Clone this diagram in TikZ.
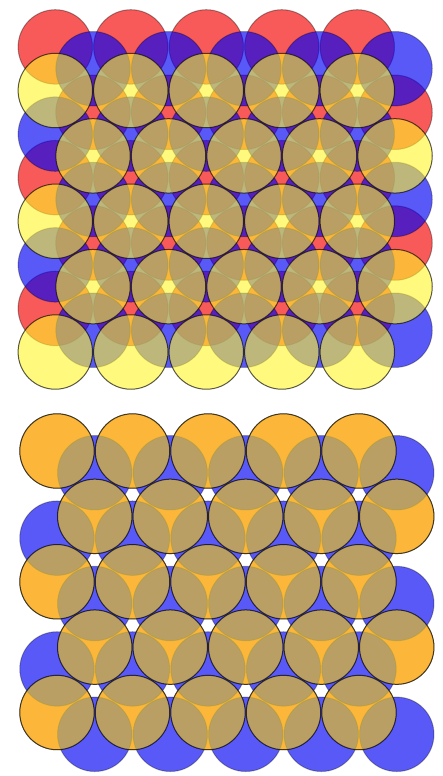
\documentclass[tikz,border=0pt]{standalone}
\definecolor{ballred}{RGB}{245,0,0}
\definecolor{ballblue}{RGB}{0,0,245}
\definecolor{ballyellow}{RGB}{255,245,40}
\tikzset{
  ball/.style={line width=1pt, draw=black},
  redball/.style={ball, draw opacity=0.35, fill=ballred, fill opacity=0.65},
  blueball/.style={ball, draw opacity=0.3, fill=ballblue, fill opacity=0.65},
  yellowball/.style={ball, draw opacity=0.65, fill=ballyellow, fill opacity=0.6},
}
\newcommand\myd{75.5}
\newcommand\myh{65.38}
\newcommand\myr{37.2}
\begin{document}
\begin{tikzpicture}[x=1pt,y=-1pt]
\useasboundingbox (0,0) rectangle (443,776);
% ---------- top panel: ABC stacking ----------
\foreach \k in {0,...,4}{\foreach \j in {0,...,4}{
  \pgfmathsetmacro\xx{55.3+37.75*mod(\k,2)+\myd*\j}
  \pgfmathsetmacro\yy{90.5+\myh*\k-43.59}
  \path[redball] (\xx,\yy) circle[radius=\myr pt];
}}
\foreach \k in {0,...,4}{\foreach \j in {0,...,4}{
  \pgfmathsetmacro\xx{55.3+37.75*mod(\k+1,2)+\myd*\j}
  \pgfmathsetmacro\yy{90.5+\myh*\k-21.79}
  \path[blueball] (\xx,\yy) circle[radius=\myr pt];
}}
\foreach \k in {0,...,4}{\foreach \j in {0,...,4}{
  \pgfmathsetmacro\xx{55.3+37.75*mod(\k,2)+\myd*\j}
  \pgfmathsetmacro\yy{90.5+\myh*\k}
  \path[yellowball] (\xx,\yy) circle[radius=\myr pt];
}}
% ---------- bottom panel: AB stacking ----------
\foreach \k in {0,...,4}{\foreach \j in {0,...,4}{
  \pgfmathsetmacro\xx{57+37.75*mod(\k,2)+\myd*\j}
  \pgfmathsetmacro\yy{451+\myh*\k}
  \path[redball] (\xx,\yy) circle[radius=\myr pt];
}}
\foreach \k in {0,...,4}{\foreach \j in {0,...,4}{
  \pgfmathsetmacro\xx{57+37.75*mod(\k+1,2)+\myd*\j}
  \pgfmathsetmacro\yy{451+\myh*\k+21.79}
  \path[blueball] (\xx,\yy) circle[radius=\myr pt];
}}
\foreach \k in {0,...,4}{\foreach \j in {0,...,4}{
  \pgfmathsetmacro\xx{57+37.75*mod(\k,2)+\myd*\j}
  \pgfmathsetmacro\yy{451+\myh*\k}
  \path[yellowball] (\xx,\yy) circle[radius=\myr pt];
}}
\end{tikzpicture}
\end{document}
